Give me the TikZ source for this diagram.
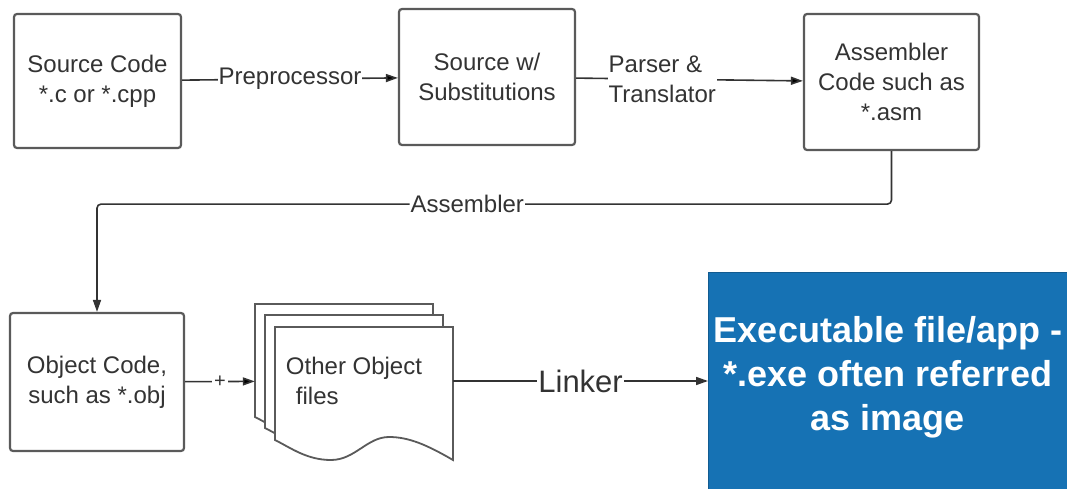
\documentclass[tikz,border=0pt]{standalone}
\usepackage{fontspec}
\setmainfont{Liberation Sans}
\usepackage{tikz}
\usetikzlibrary{arrows.meta}

\definecolor{linegray}{RGB}{90,90,90}
\definecolor{textgray}{RGB}{51,51,51}
\definecolor{exeblue}{RGB}{22,114,180}

\begin{document}
\begin{tikzpicture}[x=1pt, y=-1pt,
  box/.style={draw=linegray, line width=2.2pt, rounded corners=3pt, fill=white, text=textgray,
    align=center, inner sep=0pt, font=\fontsize{24}{30}\selectfont},
  sheet/.style={draw=linegray, line width=1.8pt, fill=white},
  conn/.style={draw=textgray, line width=1.6pt, -{Triangle[length=12pt,width=8pt]}},
  lbl/.style={fill=white, text=textgray, inner xsep=1pt, inner ysep=0pt, font=\fontsize{24}{30}\selectfont}]
  \useasboundingbox (0,0) rectangle (1067,489);
  \clip (0,0) rectangle (1067,489);

  \node[box, minimum width=167, minimum height=134] (src) at (97.5,81) {Source Code\\*.c or *.cpp};
  \node[box, minimum width=176, minimum height=136] (subst) at (487,77) {Source w/\\Substitutions};
  \node[box, minimum width=175, minimum height=136] (asm) at (891.5,82) {Assembler\\Code such as\\*.asm};
  \node[box, minimum width=174, minimum height=138] (obj) at (97,382) {Object Code,\\such as *.obj};

  % stack of object files
  \foreach \dx/\dy in {0/0, 10/11, 20/23}
    \draw[sheet, shift={(255+\dx,304+\dy)}] (0,0) -- (178,0) -- (178,133)
      .. controls (152,118) and (134,110) .. (114,110)
      .. controls (92,110) and (80,133) .. (56,133)
      .. controls (32,133) and (16,121) .. (0,113) -- cycle;
  \node[align=left, text=textgray, inner sep=0pt, minimum width=198, minimum height=154,
    font=\fontsize{24}{30}\selectfont] (others) at (354,381) {Other Object\\\hspace*{10pt}files};

  \node[draw=exeblue!80!black, fill=exeblue, line width=1pt, minimum width=380, minimum height=240,
    anchor=north west, inner sep=0pt] (exe) at (708,272) {};
  \node[text=white, align=center, font=\bfseries\fontsize{36}{44}\selectfont] (exetext) at (888,377)
    {Executable file/app -\\*.exe often referred\\as image};

  \path[conn]
  (src) edge node[lbl] {Preprocessor} (subst)
  (subst) edge node[lbl, pos=.38, align=left] {Parser \&\\Translator} (asm)
  (obj) edge node[lbl, inner xsep=2pt, font=\fontsize{20}{20}\selectfont] {+} (others)
;
  \draw[conn] (others.east) -- node[lbl, font=\fontsize{31}{36}\selectfont] {Linker} (others.east -| exe.west);
  \draw[conn, rounded corners=4pt] (asm.south) -- ++(0,53) -| node[lbl, pos=.267] {Assembler} (obj.north);
\end{tikzpicture}
\end{document}
